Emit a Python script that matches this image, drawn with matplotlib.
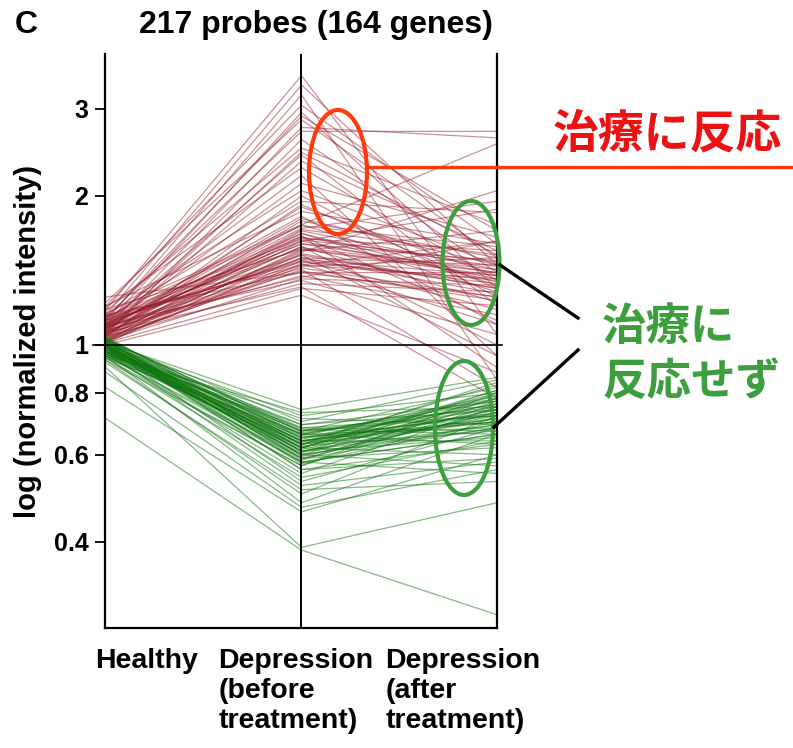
import numpy as np
import matplotlib
matplotlib.use("Agg")
from matplotlib import pyplot as plt
from matplotlib.patches import Ellipse

plt.rcParams['font.family'] = ['Liberation Sans', 'DejaVu Sans']

# stage labels
stages = ["Healthy", "Depression\n(before\ntreatment)", "Depression\n(after\ntreatment)"]

# probes up-regulated in depression (healthy, before, after)
red_healthy = [1.18, 1.15, 1.12, 1.20, 1.10, 1.22, 1.08, 1.14, 1.05, 1.17, 1.10, 1.06, 1.19, 1.12,
               1.09, 1.15, 1.04, 1.13, 1.07, 1.20, 1.10, 1.05, 1.16, 1.09, 1.03, 1.12, 1.07, 1.14,
               1.02, 1.10, 1.06, 1.18, 1.04, 1.11, 1.08, 1.01, 1.13, 1.05, 1.09, 1.03, 1.15, 1.07,
               1.02, 1.10, 1.04, 1.06, 1.01, 1.08, 1.12, 1.03, 1.06, 1.09, 1.02, 1.14, 1.05, 1.11,
               1.08, 1.25, 1.00, 1.07, 1.13, 1.04, 1.09, 1.02,
               1.06, 1.11, 1.03, 1.08, 1.14, 1.05, 1.01, 1.10, 1.07, 1.04, 1.12, 1.02]
red_before = [3.50, 3.35, 3.20, 3.05, 2.95, 2.85, 2.75, 2.70, 2.60, 2.50, 2.42, 2.35, 2.28, 2.20,
              2.12, 2.05, 2.00, 1.95, 1.90, 1.86, 1.82, 1.78, 1.75, 1.72, 1.70, 1.68, 1.66, 1.64,
              1.62, 1.60, 1.58, 1.56, 1.54, 1.52, 1.50, 1.48, 1.47, 1.45, 1.43, 1.42, 1.40, 1.38,
              1.36, 1.35, 1.33, 1.31, 1.30, 1.75, 1.62, 1.55, 1.52, 1.66, 1.44, 1.74, 1.58, 1.49,
              1.80, 1.40, 1.26, 2.45, 2.90, 1.92, 1.37, 1.46,
              1.68, 1.57, 1.50, 1.63, 1.45, 1.71, 1.53, 1.60, 1.41, 1.65, 1.48, 1.56]
red_after = [1.05, 1.45, 0.85, 1.60, 1.30, 1.50, 2.62, 2.70, 1.40, 1.75, 1.20, 1.55, 1.35, 0.95,
             1.65, 1.45, 1.25, 1.85, 1.38, 1.60, 1.10, 1.50, 1.32, 1.95, 1.42, 1.28, 0.90, 1.55,
             1.36, 1.48, 1.22, 1.40, 2.05, 1.30, 1.45, 1.18, 1.35, 1.62, 1.25, 0.82, 1.40, 1.15,
             1.32, 1.05, 1.28, 0.78, 1.20, 2.55, 1.88, 1.70, 0.95, 1.12, 1.50, 1.58, 1.00, 1.38,
             1.45, 1.25, 0.88, 1.52, 1.70, 1.30, 1.62, 1.10,
             1.34, 1.42, 1.27, 1.47, 1.36, 1.52, 1.30, 1.40, 1.23, 1.44, 1.33, 1.38]

# probes down-regulated in depression (healthy, before, after)
green_healthy = [0.71, 0.90, 0.82, 0.95, 0.93, 0.97, 0.99, 0.96, 1.01, 0.94, 1.00, 0.98, 1.02, 0.95,
                 0.99, 1.03, 0.97, 1.00, 0.96, 1.01, 0.98, 1.04, 0.95, 0.99, 1.02, 0.97, 1.00, 0.94,
                 1.03, 0.98, 1.01, 0.96, 0.99, 1.02, 0.97, 1.00, 0.95, 1.01, 0.98, 1.00, 0.96, 0.99,
                 1.02, 0.97, 1.00, 0.93, 1.03, 0.98, 1.01, 0.95, 0.99, 0.97, 1.02, 0.88, 0.92, 1.00,
                 0.94, 1.01, 0.96, 0.99,
                 0.98, 1.00, 0.97, 1.02, 0.99, 0.96, 1.01, 0.98, 1.00, 0.97, 1.03, 0.99, 0.95, 1.01]
green_before = [0.385, 0.39, 0.46, 0.48, 0.50, 0.52, 0.53, 0.55, 0.56, 0.57, 0.575, 0.58, 0.585, 0.59,
                0.595, 0.60, 0.605, 0.61, 0.615, 0.62, 0.625, 0.63, 0.635, 0.64, 0.645, 0.65, 0.655,
                0.66, 0.665, 0.67, 0.675, 0.68, 0.69, 0.70, 0.71, 0.72, 0.73, 0.74, 0.60, 0.58, 0.62,
                0.64, 0.61, 0.63, 0.59, 0.57, 0.65, 0.67, 0.66, 0.62, 0.60, 0.64, 0.68, 0.47, 0.51,
                0.56, 0.54, 0.63, 0.69, 0.66,
                0.61, 0.63, 0.65, 0.60, 0.62, 0.64, 0.59, 0.66, 0.61, 0.63, 0.67, 0.62, 0.58, 0.64]
green_after = [0.285, 0.48, 0.60, 0.66, 0.72, 0.58, 0.68, 0.75, 0.63, 0.80, 0.70, 0.66, 0.77, 0.62,
               0.73, 0.69, 0.81, 0.65, 0.74, 0.78, 0.67, 0.71, 0.83, 0.64, 0.76, 0.70, 0.79, 0.68,
               0.74, 0.82, 0.66, 0.72, 0.77, 0.85, 0.69, 0.80, 0.75, 0.86, 0.57, 0.55, 0.60, 0.73,
               0.71, 0.79, 0.68, 0.76, 0.72, 0.75, 0.63, 0.81, 0.78, 0.70, 0.67, 0.56, 0.53, 0.59,
               0.64, 0.84, 0.74, 0.77,
               0.72, 0.70, 0.76, 0.68, 0.74, 0.71, 0.73, 0.78, 0.69, 0.75, 0.72, 0.80, 0.66, 0.73]

yticks = [0.4, 0.6, 0.8, 1, 2, 3]
ytick_labels = ["0.4", "0.6", "0.8", "1", "2", "3"]

fig = plt.figure(figsize=(7.93, 7.48), dpi=100)
ax = fig.add_axes([105 / 793, 120 / 748, 392 / 793, 574 / 748])

x = np.arange(3)
red = np.array([red_healthy, red_before, red_after])
green = np.array([green_healthy, green_before, green_after])
ax.plot(x, red, color=(0.58, 0.10, 0.16), alpha=0.48, lw=0.9)
ax.plot(x, green, color=(0.06, 0.46, 0.06), alpha=0.5, lw=0.9)

ax.set_yscale('log')
ax.set_ylim(0.268, 3.87)
ax.set_xlim(-0.005, 2.0)
ax.set_yticks(yticks)
ax.set_yticklabels(ytick_labels, fontsize=18, fontweight='bold')
ax.yaxis.set_minor_locator(matplotlib.ticker.NullLocator())
ax.set_xticks([])
ax.tick_params(axis='y', direction='out', length=7, width=1.3, pad=5)
ax.spines['top'].set_visible(False)
for s in ['left', 'bottom', 'right']:
    ax.spines[s].set_linewidth(1.6)
ax.axvline(1, color='black', lw=1.4)
ax.axhline(1, xmin=-0.03, xmax=1.013, color='black', lw=1.2, clip_on=False)
ax.set_ylabel("log (normalized intensity)", fontsize=21, fontweight='bold', labelpad=8)

# stage labels below the axis
ax.text(0.21, -0.035, stages[0], transform=ax.get_xaxis_transform(), ha='center', va='top',
        fontsize=20.5, fontweight='bold')
ax.text(0.575, -0.035, stages[1], transform=ax.get_xaxis_transform(), ha='left', va='top',
        fontsize=20.5, fontweight='bold', linespacing=1.2)
ax.text(1.43, -0.035, stages[2], transform=ax.get_xaxis_transform(), ha='left', va='top',
        fontsize=20.5, fontweight='bold', linespacing=1.2)

fig.text(316 / 793, 1 - 25 / 748, "217 probes (164 genes)", ha='center', va='center',
         fontsize=23, fontweight='bold')
fig.text(15 / 793, 1 - 25 / 748, "C", ha='left', va='center', fontsize=23, fontweight='bold')

# annotation overlay in pixel space
ov = fig.add_axes([0, 0, 1, 1], facecolor='none')
ov.set_xlim(0, 793)
ov.set_ylim(748, 0)
ov.axis('off')

orange = '#ff3a0a'
gcol = '#3c9e3c'
ov.add_patch(Ellipse((338, 172), 58, 124, fill=False, ec=orange, lw=3))
ov.plot([370, 793], [167, 167], color=orange, lw=2.4)
ov.add_patch(Ellipse((471, 263), 57, 124, fill=False, ec=gcol, lw=3))
ov.add_patch(Ellipse((464, 428), 58, 134, fill=False, ec=gcol, lw=3))
ov.plot([500, 578], [265, 318], color='black', lw=2.4)
ov.plot([494, 578], [427, 350], color='black', lw=2.4)

jp = ['Noto Sans CJK JP', 'DejaVu Sans']
ov.text(553, 135, "治療に反応", color='#ee1111', fontsize=33, fontweight='bold',
        family=jp, ha='left', va='center')
ov.text(602, 327, "治療に", color=gcol, fontsize=32, fontweight='bold',
        family=jp, ha='left', va='center')
ov.text(602, 382, "反応せず", color=gcol, fontsize=32, fontweight='bold',
        family=jp, ha='left', va='center')

fig.savefig("out.png", dpi=100)
